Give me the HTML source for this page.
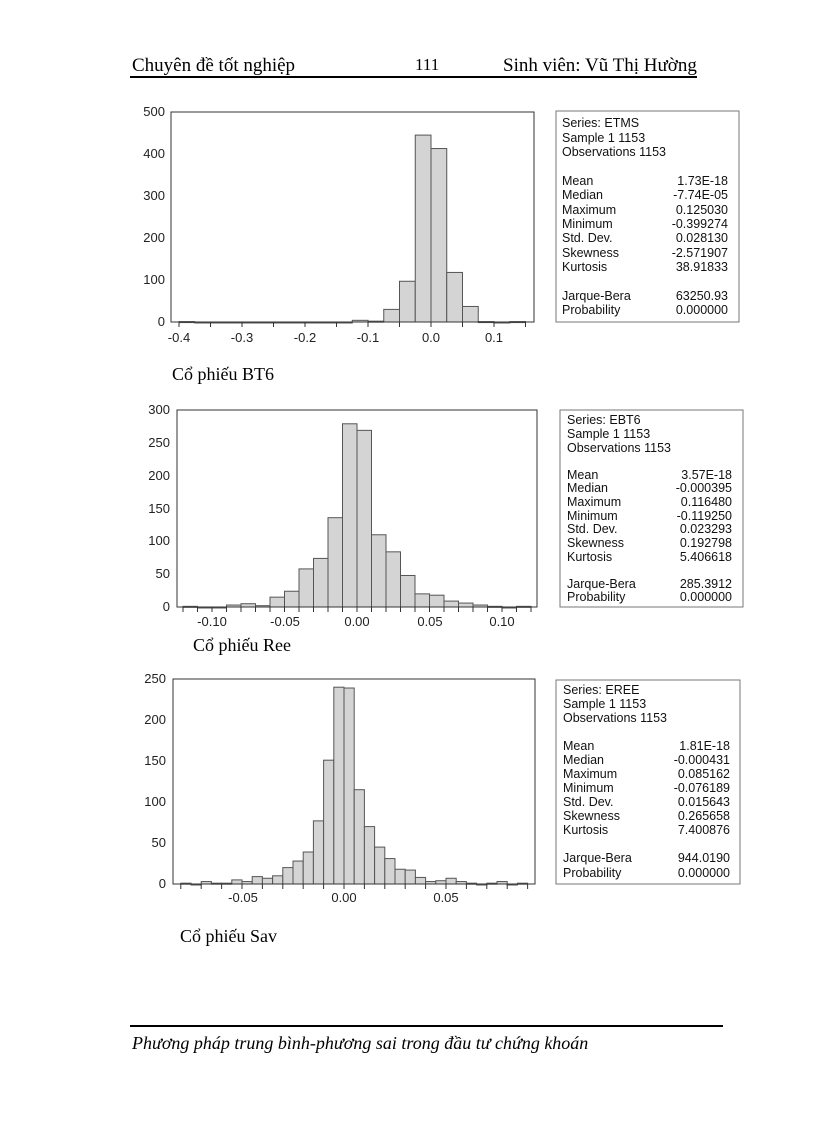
<!DOCTYPE html>
<html><head><meta charset="utf-8">
<style>
html,body{margin:0;padding:0;background:#fff}
body{width:816px;height:1123px;position:relative;overflow:hidden}
svg{position:absolute;left:0;top:0}
.t{font-family:"Liberation Serif","Noto Serif CJK SC",serif}
.a{font-family:"Liberation Sans",sans-serif}
</style></head><body>
<svg width="816" height="1123" xmlns="http://www.w3.org/2000/svg">
<g class="t" fill="#000">
<text x="132" y="71" font-size="19">Chuyên đề tốt nghiệp</text>
<text x="415" y="70" font-size="17">111</text>
<text x="503" y="71" font-size="19">Sinh viên: Vũ Thị Hường</text>
<text x="172" y="380" font-size="18">Cổ phiếu BT6</text>
<text x="193" y="651" font-size="18">Cổ phiếu Ree</text>
<text x="180" y="942" font-size="18">Cổ phiếu Sav</text>
<text x="132" y="1049" font-size="18" font-style="italic">Phương pháp trung bình-phương sai trong đầu tư chứng khoán</text>
</g>
<line x1="130" y1="77" x2="697" y2="77" stroke="#000" stroke-width="2"/>
<line x1="130" y1="1026" x2="723" y2="1026" stroke="#000" stroke-width="2"/>

<g id="c1"></g><g id="c2"></g><g id="c3"></g>

<rect x="171" y="112" width="363" height="210" fill="none" stroke="#333" stroke-width="1"/>
<g class="a" font-size="13" fill="#222" text-anchor="end">
<text x="165" y="116">500</text><text x="165" y="158">400</text><text x="165" y="200">300</text>
<text x="165" y="242">200</text><text x="165" y="284">100</text><text x="165" y="326">0</text>
</g>
<g class="a" font-size="13" fill="#222" text-anchor="middle">
<text x="179" y="342">-0.4</text><text x="242" y="342">-0.3</text><text x="305" y="342">-0.2</text>
<text x="368" y="342">-0.1</text><text x="431" y="342">0.0</text><text x="494" y="342">0.1</text>
</g>
<rect x="177" y="410" width="360" height="197" fill="none" stroke="#333" stroke-width="1"/>
<g class="a" font-size="13" fill="#222" text-anchor="end">
<text x="170" y="414">300</text><text x="170" y="447">250</text><text x="170" y="480">200</text>
<text x="170" y="513">150</text><text x="170" y="545">100</text><text x="170" y="578">50</text><text x="170" y="611">0</text>
</g>
<g class="a" font-size="13" fill="#222" text-anchor="middle">
<text x="212" y="626">-0.10</text><text x="285" y="626">-0.05</text><text x="357" y="626">0.00</text>
<text x="430" y="626">0.05</text><text x="502" y="626">0.10</text>
</g>
<rect x="173" y="679" width="362" height="205" fill="none" stroke="#333" stroke-width="1"/>
<g class="a" font-size="13" fill="#222" text-anchor="end">
<text x="166" y="683">250</text><text x="166" y="724">200</text><text x="166" y="765">150</text>
<text x="166" y="806">100</text><text x="166" y="847">50</text><text x="166" y="888">0</text>
</g>
<g class="a" font-size="13" fill="#222" text-anchor="middle">
<text x="243" y="902">-0.05</text><text x="344" y="902">0.00</text><text x="446" y="902">0.05</text>
</g>

<rect x="556" y="111" width="183" height="211" fill="none" stroke="#777"/>
<g class="a" font-size="12.5" fill="#111">
<text x="562" y="127">Series: ETMS</text><text x="562" y="142">Sample 1 1153</text><text x="562" y="156">Observations 1153</text>
<text x="562" y="185">Mean</text><text x="562" y="199">Median</text><text x="562" y="214">Maximum</text><text x="562" y="228">Minimum</text>
<text x="562" y="242">Std. Dev.</text><text x="562" y="257">Skewness</text><text x="562" y="271">Kurtosis</text>
<text x="562" y="300">Jarque-Bera</text><text x="562" y="314">Probability</text>
<g text-anchor="end">
<text x="728" y="185">1.73E-18</text><text x="728" y="199">-7.74E-05</text><text x="728" y="214">0.125030</text><text x="728" y="228">-0.399274</text>
<text x="728" y="242">0.028130</text><text x="728" y="257">-2.571907</text><text x="728" y="271">38.91833</text>
<text x="728" y="300">63250.93</text><text x="728" y="314">0.000000</text>
</g></g>

<rect x="560" y="410" width="183" height="197" fill="none" stroke="#777"/>
<g class="a" font-size="12.5" fill="#111">
<text x="567" y="424">Series: EBT6</text><text x="567" y="438">Sample 1 1153</text><text x="567" y="452">Observations 1153</text>
<text x="567" y="479">Mean</text><text x="567" y="492">Median</text><text x="567" y="506">Maximum</text><text x="567" y="520">Minimum</text>
<text x="567" y="533">Std. Dev.</text><text x="567" y="547">Skewness</text><text x="567" y="561">Kurtosis</text>
<text x="567" y="588">Jarque-Bera</text><text x="567" y="601">Probability</text>
<g text-anchor="end">
<text x="732" y="479">3.57E-18</text><text x="732" y="492">-0.000395</text><text x="732" y="506">0.116480</text><text x="732" y="520">-0.119250</text>
<text x="732" y="533">0.023293</text><text x="732" y="547">0.192798</text><text x="732" y="561">5.406618</text>
<text x="732" y="588">285.3912</text><text x="732" y="601">0.000000</text>
</g></g>

<rect x="556" y="680" width="184" height="204" fill="none" stroke="#777"/>
<g class="a" font-size="12.5" fill="#111">
<text x="563" y="694">Series: EREE</text><text x="563" y="708">Sample 1 1153</text><text x="563" y="722">Observations 1153</text>
<text x="563" y="750">Mean</text><text x="563" y="764">Median</text><text x="563" y="778">Maximum</text><text x="563" y="792">Minimum</text>
<text x="563" y="806">Std. Dev.</text><text x="563" y="820">Skewness</text><text x="563" y="834">Kurtosis</text>
<text x="563" y="862">Jarque-Bera</text><text x="563" y="877">Probability</text>
<g text-anchor="end">
<text x="730" y="750">1.81E-18</text><text x="730" y="764">-0.000431</text><text x="730" y="778">0.085162</text><text x="730" y="792">-0.076189</text>
<text x="730" y="806">0.015643</text><text x="730" y="820">0.265658</text><text x="730" y="834">7.400876</text>
<text x="730" y="862">944.0190</text><text x="730" y="877">0.000000</text>
</g></g>
</svg>
<script>
var NS="http://www.w3.org/2000/svg";
function draw(id,x0,zero,pxPerUnit,yScale,start,w,counts,ticks){
  var g=document.getElementById(id);
  for(var i=0;i<counts.length;i++){
    var c=counts[i];
    var xa=x0+(start+i*w)*pxPerUnit, xb=x0+(start+(i+1)*w)*pxPerUnit;
    var h=c*yScale;
    var r=document.createElementNS(NS,"rect");
    r.setAttribute("x",xa);r.setAttribute("y",zero-h);
    r.setAttribute("width",xb-xa);r.setAttribute("height",Math.max(h,1));
    r.setAttribute("fill","#d4d4d4");r.setAttribute("stroke","#555");r.setAttribute("stroke-width","1");
    g.appendChild(r);
  }
  ticks.forEach(function(t){
    var l=document.createElementNS(NS,"line");var x=x0+t*pxPerUnit;
    l.setAttribute("x1",x);l.setAttribute("x2",x);l.setAttribute("y1",zero);l.setAttribute("y2",zero+5);
    l.setAttribute("stroke","#333");g.appendChild(l);
  });
}
var t1=[];for(var v=-0.4;v<=0.151;v+=0.05)t1.push(v);
draw("c1",431,322,630,0.42,-0.4,0.025,
 [1,0,0,0,0,0,0,0,0,0,0,4,2,30,97,445,413,118,37,1,0,1],t1);
var t2=[];for(var v=-0.12;v<=0.121;v+=0.01)t2.push(v);
draw("c2",357,607,1450,197/300,-0.12,0.01,
 [1,0,0,3,5,2,15,24,58,74,136,279,269,110,84,48,20,18,9,6,3,1,0,1],t2);
var t3=[];for(var v=-0.08;v<=0.091;v+=0.01)t3.push(v);
draw("c3",344,884,2040,205/250,-0.08,0.005,
 [1,0,3,1,1,5,3,9,7,10,20,28,39,77,151,240,239,115,70,45,31,18,17,8,3,4,7,3,1,0,1,3,0,1],t3);
</script>
</body></html>
